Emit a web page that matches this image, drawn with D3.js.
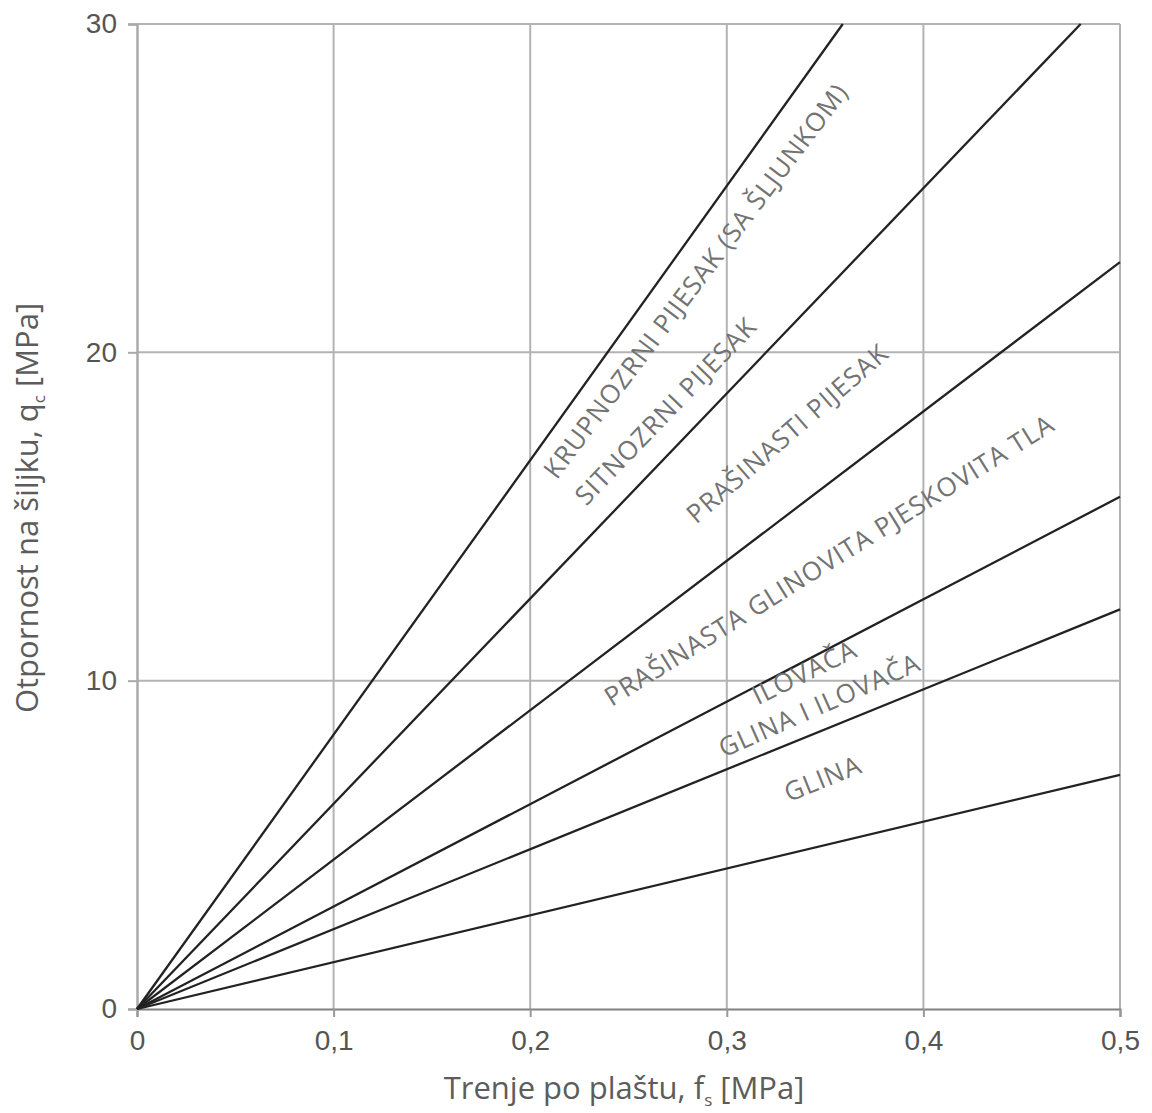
<!DOCTYPE html>
<html>
<head>
<meta charset="utf-8">
<script src="https://cdn.jsdelivr.net/npm/d3@7"></script>
<style>
  body { margin: 0; background: #fff; }
  svg { display: block; font-family: "Open Sans", sans-serif; }
  .tick text { fill: #555; font-size: 28px; }
  .grid line { stroke: #b3b3b3; stroke-width: 2; }
  .soil-line { stroke: #222; stroke-width: 2.3; fill: none; }
  .soil-label { fill: #737373; font-size: 26px; letter-spacing: 1px; }
  .axis-title { fill: #5c5c5c; font-size: 31px; }
</style>
</head>
<body>
<div id="chart"></div>
<script>
// soil zones, boundary lines run from origin to the end point
var soilNames = ["KRUPNOZRNI PIJESAK (SA ŠLJUNKOM)", "SITNOZRNI PIJESAK", "PRAŠINASTI PIJESAK",
                 "PRAŠINASTA GLINOVITA PJESKOVITA TLA", "ILOVAČA", "GLINA I ILOVAČA", "GLINA"];
var lineEndFs = [0.359, 0.48, 0.5, 0.5, 0.5, 0.5];
var lineEndQc = [30, 30, 22.75, 15.6, 12.17, 7.13];

// where each label starts (data units) and its angle
var labelFs = [0.2135, 0.2285, 0.2845, 0.2415, 0.3158, 0.2985, 0.3315];
var labelQc = [16.1, 15.3, 14.75, 9.2, 9.25, 7.65, 6.3];
var labelAngle = [-53, -46, -41, -32, -26, -24, -22];

var xTicks = [0, 0.1, 0.2, 0.3, 0.4, 0.5];
var yTicks = [0, 10, 20, 30];

var W = 1152, H = 1113;
var margin = { top: 24, right: 32, bottom: 104, left: 137 };
var width = W - margin.left - margin.right,
    height = H - margin.top - margin.bottom;

var svg = d3.select("#chart").append("svg")
    .attr("width", W)
    .attr("height", H);

var g = svg.append("g")
    .attr("transform", "translate(" + margin.left + "," + margin.top + ")");

var x = d3.scaleLinear().domain([0, 0.5]).range([0, width]);
var y = d3.scaleLinear().domain([0, 30]).range([height, 0]);

var loc = d3.formatLocale({ decimal: ",", thousands: ".", grouping: [3], currency: ["", ""] });
var fmt = function(d) { return d === 0 ? "0" : loc.format(".1f")(d); };

// grid
g.append("g").attr("class", "grid")
    .selectAll("line.v").data(xTicks.slice(1)).enter().append("line")
    .attr("x1", function(d) { return x(d); }).attr("x2", function(d) { return x(d); })
    .attr("y1", 0).attr("y2", height);
g.select(".grid")
    .selectAll("line.h").data(yTicks.slice(1)).enter().append("line")
    .attr("x1", 0).attr("x2", width)
    .attr("y1", function(d) { return y(d); }).attr("y2", function(d) { return y(d); });

// axes
var xAxis = d3.axisBottom(x).tickValues(xTicks).tickFormat(fmt).tickSize(8).tickPadding(13);
var yAxis = d3.axisLeft(y).tickValues(yTicks).tickSize(9).tickPadding(11);

var xg = g.append("g").attr("class", "x-axis")
    .attr("transform", "translate(0," + height + ")")
    .call(xAxis);
xg.select(".domain").attr("stroke", "#808080").attr("stroke-width", 2);
xg.selectAll(".tick line").attr("stroke", "#999").attr("stroke-width", 2);

var yg = g.append("g").attr("class", "y-axis").call(yAxis);
yg.select(".domain").attr("stroke", "#aaa").attr("stroke-width", 2.5);
yg.selectAll(".tick line").attr("stroke", "#aaa").attr("stroke-width", 2);

// boundary lines
var line = d3.line().x(function(d) { return x(d[0]); }).y(function(d) { return y(d[1]); });
g.selectAll(".soil-line")
    .data(lineEndFs.map(function(f, i) { return [[0, 0], [f, lineEndQc[i]]]; }))
    .enter().append("path")
    .attr("class", "soil-line")
    .attr("d", line);

// zone labels
g.selectAll(".soil-label")
    .data(soilNames)
    .enter().append("text")
    .attr("class", "soil-label")
    .attr("transform", function(d, i) {
        return "translate(" + x(labelFs[i]) + "," + y(labelQc[i]) + ") rotate(" + labelAngle[i] + ")";
    })
    .text(function(d) { return d; });

// axis titles
var xt = svg.append("text").attr("class", "axis-title")
    .attr("x", 624).attr("y", 1099)
    .attr("text-anchor", "middle");
xt.append("tspan").text("Trenje po plaštu, f");
xt.append("tspan").attr("font-size", "17px").attr("dy", 7).text("s");
xt.append("tspan").attr("dy", -7).text(" [MPa]");

var yt = svg.append("text").attr("class", "axis-title")
    .attr("transform", "translate(38,508) rotate(-90)")
    .attr("text-anchor", "middle");
yt.append("tspan").text("Otpornost na šiljku, q");
yt.append("tspan").attr("font-size", "17px").attr("dy", 7).text("c");
yt.append("tspan").attr("dy", -7).text(" [MPa]");
</script>
</body>
</html>
